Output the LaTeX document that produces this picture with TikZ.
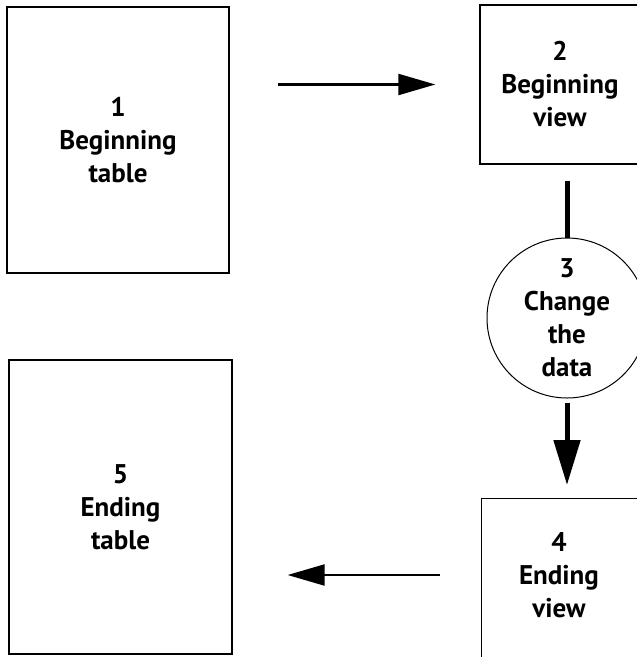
\documentclass[tikz,border=0pt]{standalone}
\usepackage{fontspec}
\setmainfont{PT Sans}
\usetikzlibrary{arrows.meta}

\tikzset{
  box/.style={draw,line width=1.3pt,align=center,font=\bfseries\fontsize{27}{33}\selectfont},
  txt/.style={align=center,font=\bfseries\fontsize{27}{33}\selectfont},
  arr/.style={line width=2.2pt,-{Triangle[length=37pt,width=21pt]}},
  bigarr/.style={line width=5pt,-{Triangle[length=45pt,width=26pt]}},
  stem/.style={line width=5pt}
}

\begin{document}
\begin{tikzpicture}[x=1pt,y=-1pt]
\clip (0,0) rectangle (637,657);
\node[box,minimum width=222pt,minimum height=266pt] (t1) at (118,140) {1\\Beginning\\table};
\node[box,minimum width=160pt,minimum height=159pt] (v2) at (560,84.5) {2\\Beginning\\view};
\node[box,circle,line width=1pt,minimum size=160pt,inner sep=-5pt] (c3) at (567,318) {3\\Change\\the\\data};
\node[box,minimum width=160pt,minimum height=200pt,anchor=north west] (v4) at (481,498) {};
\node[txt] (l4) at (559,575) {4\\Ending\\view};
\node[box,minimum width=223pt,minimum height=294pt] (t5) at (120.5,507) {5\\Ending\\table};

 \draw[arr] ([xshift=48pt]t1.east |- v2.west) -- ([xshift=-44pt]v2.west);
 \draw[stem] ([yshift=-16pt]v2.south -| c3) -- (c3.north);
 \draw[bigarr] ([yshift=-4pt]c3.south) -- ([yshift=13pt]c3.south |- v4.north);
 \draw[arr] ([xshift=-41pt]v4.west |- l4) -- ([xshift=55pt]t5.east |- l4);

\end{tikzpicture}
\end{document}
